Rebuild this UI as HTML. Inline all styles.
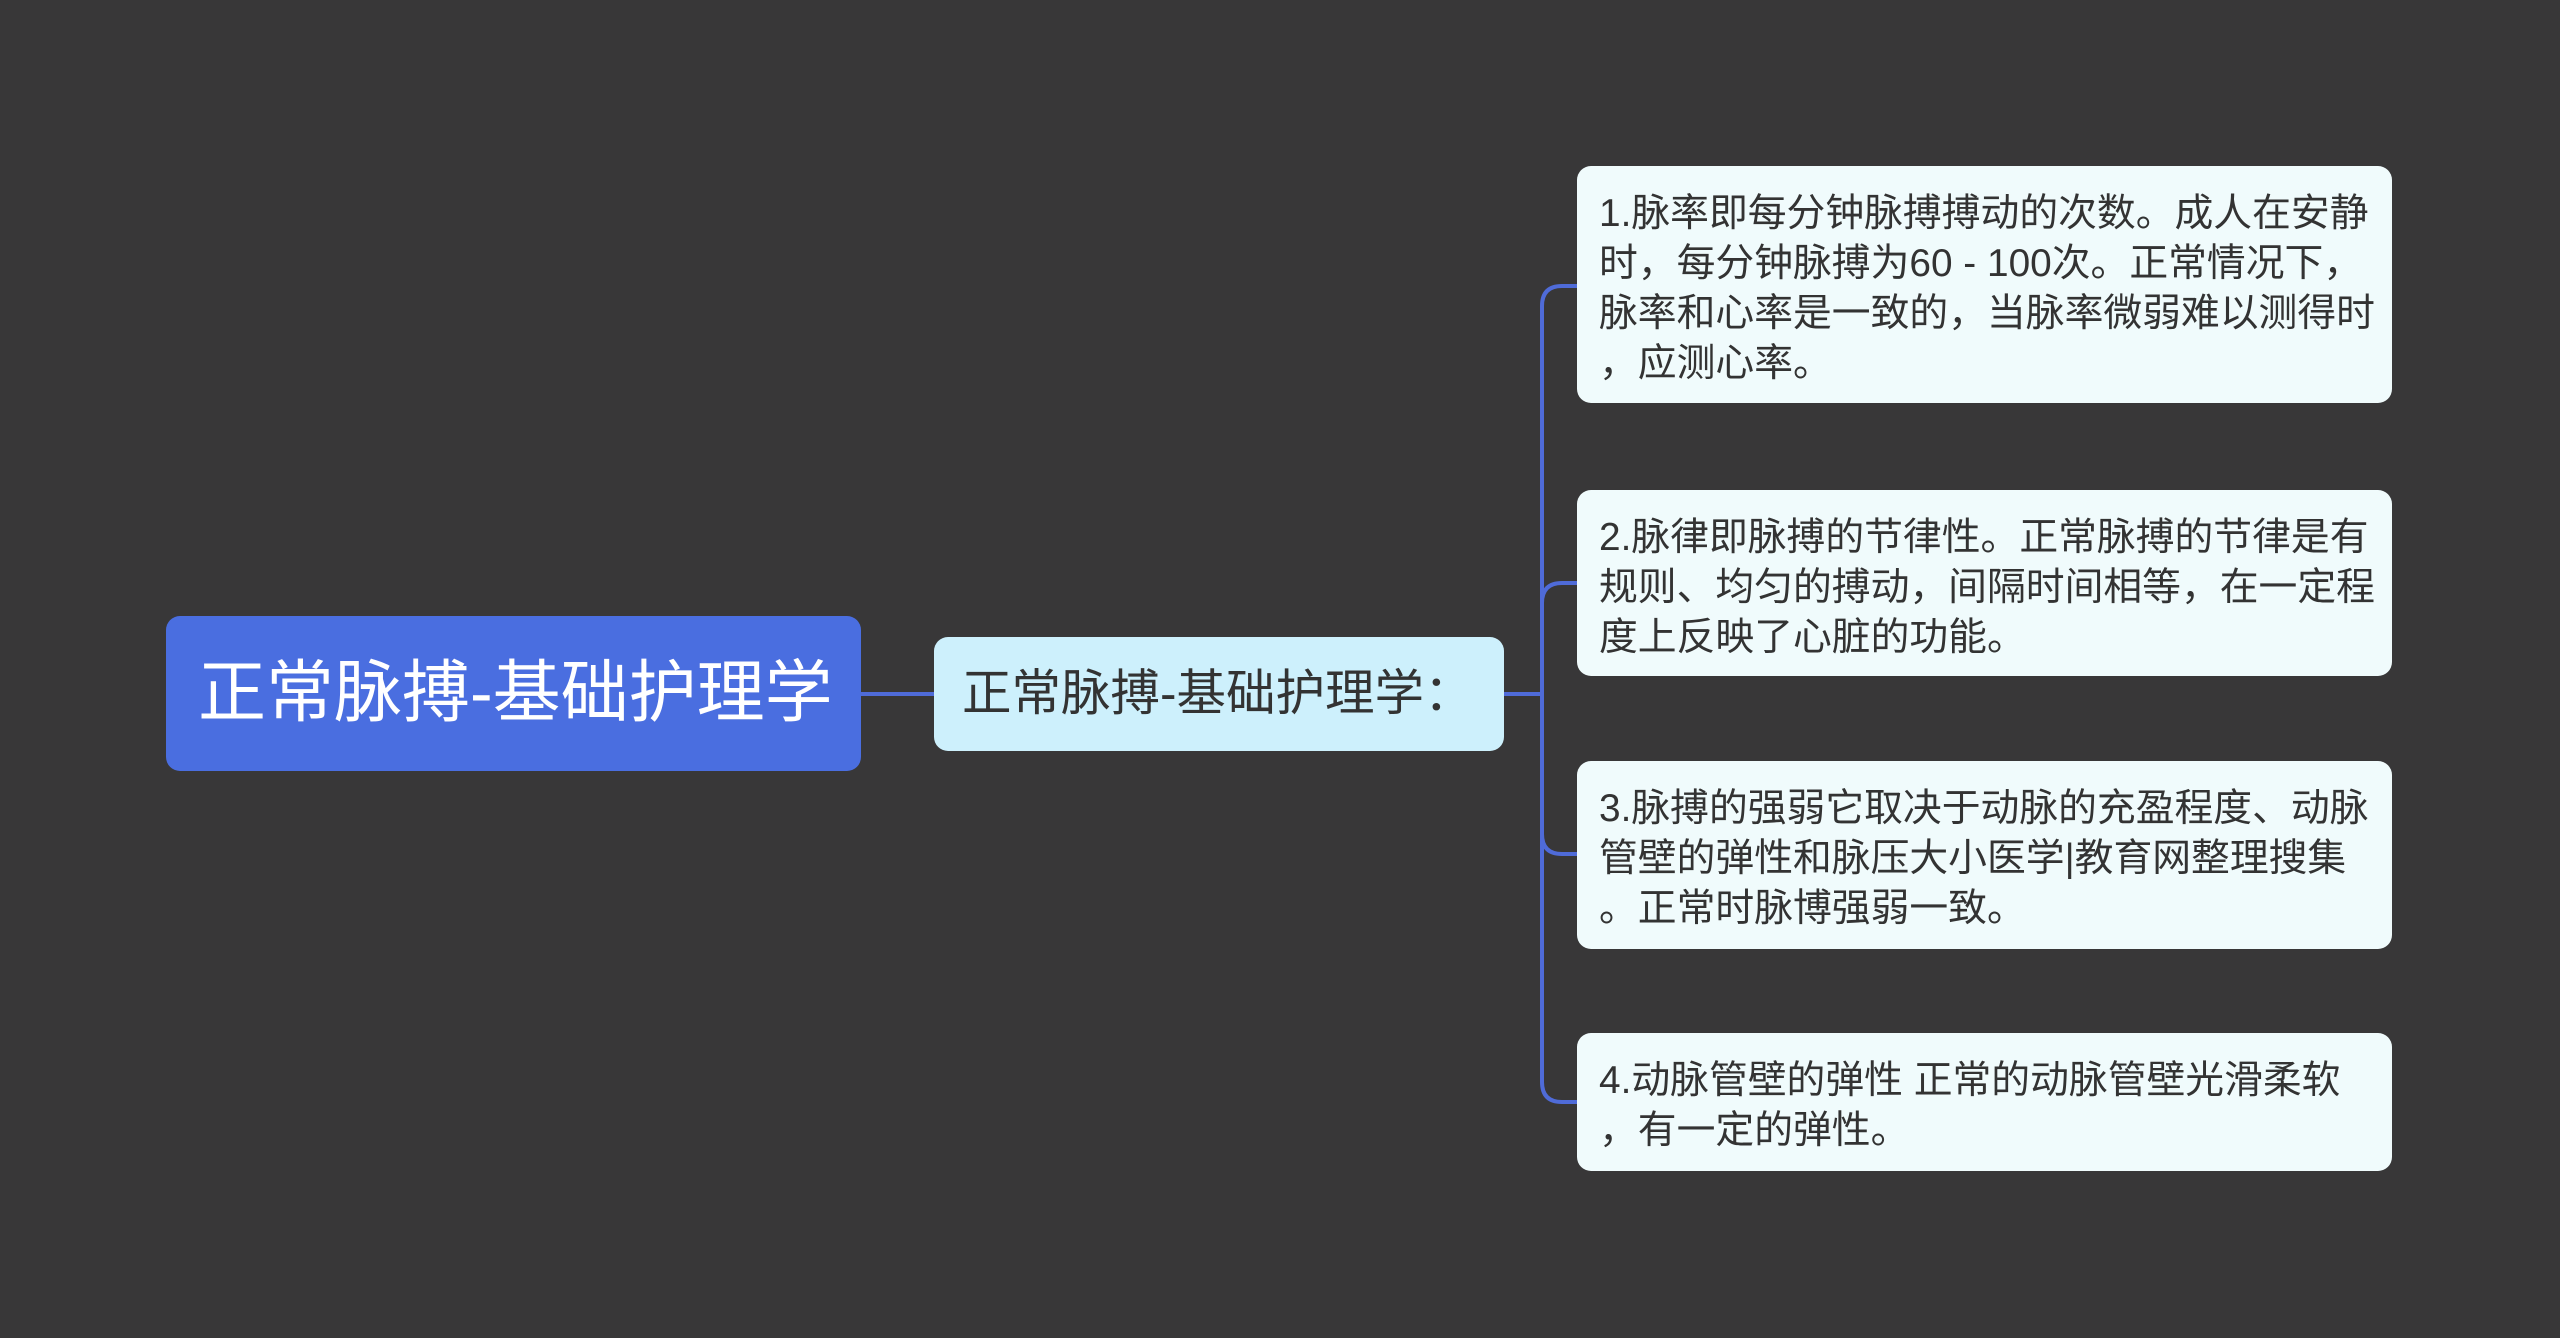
<!DOCTYPE html>
<html><head><meta charset="utf-8"><style>
body{margin:0;width:2560px;height:1338px;background:#383738;position:relative;overflow:hidden;font-family:"Liberation Sans","Noto Sans CJK SC",sans-serif;}
.n{position:absolute;box-sizing:border-box;}
.root{left:166px;top:616px;width:695px;height:155px;background:#4a6ee0;border-radius:14px;color:#fff;font-size:68px;line-height:155px;padding-left:32px;white-space:nowrap;}
.mid{left:934px;top:637px;width:570px;height:114px;background:#cdf0fc;border-radius:14px;color:#333;font-size:49.5px;line-height:114px;padding-left:28px;white-space:nowrap;}
.leaf{left:1577px;width:815px;background:#f0fbfc;border-radius:14px;color:#333;font-size:38.8px;line-height:50px;padding:23px 0 0 22px;white-space:nowrap;}
</style></head><body>
<svg width="2560" height="1338" style="position:absolute;left:0;top:0">
<g stroke="#4f6bd8" stroke-width="4" fill="none">
<line x1="860" y1="694" x2="934" y2="694"/>
<line x1="1504" y1="694" x2="1542" y2="694"/>
<path d="M1577 286 H1562 Q1542 286 1542 306 V1082 Q1542 1102 1562 1102 H1577"/>
<path d="M1577 583 H1562 Q1542 583 1542 603"/>
<path d="M1577 854 H1562 Q1542 854 1542 834"/>
</g></svg>
<div class="n root">正常脉搏-基础护理学</div>
<div class="n mid">正常脉搏-基础护理学：</div>
<div class="n leaf" style="top:166px;height:237px;">1.脉率即每分钟脉搏搏动的次数。成人在安静<br>时，每分钟脉搏为60 - 100次。正常情况下，<br>脉率和心率是一致的，当脉率微弱难以测得时<br>，应测心率。</div>
<div class="n leaf" style="top:490px;height:186px;">2.脉律即脉搏的节律性。正常脉搏的节律是有<br>规则、均匀的搏动，间隔时间相等，在一定程<br>度上反映了心脏的功能。</div>
<div class="n leaf" style="top:761px;height:188px;">3.脉搏的强弱它取决于动脉的充盈程度、动脉<br>管壁的弹性和脉压大小医学|教育网整理搜集<br>。正常时脉博强弱一致。</div>
<div class="n leaf" style="top:1033px;height:138px;">4.动脉管壁的弹性 正常的动脉管壁光滑柔软<br>，有一定的弹性。</div>
</body></html>
